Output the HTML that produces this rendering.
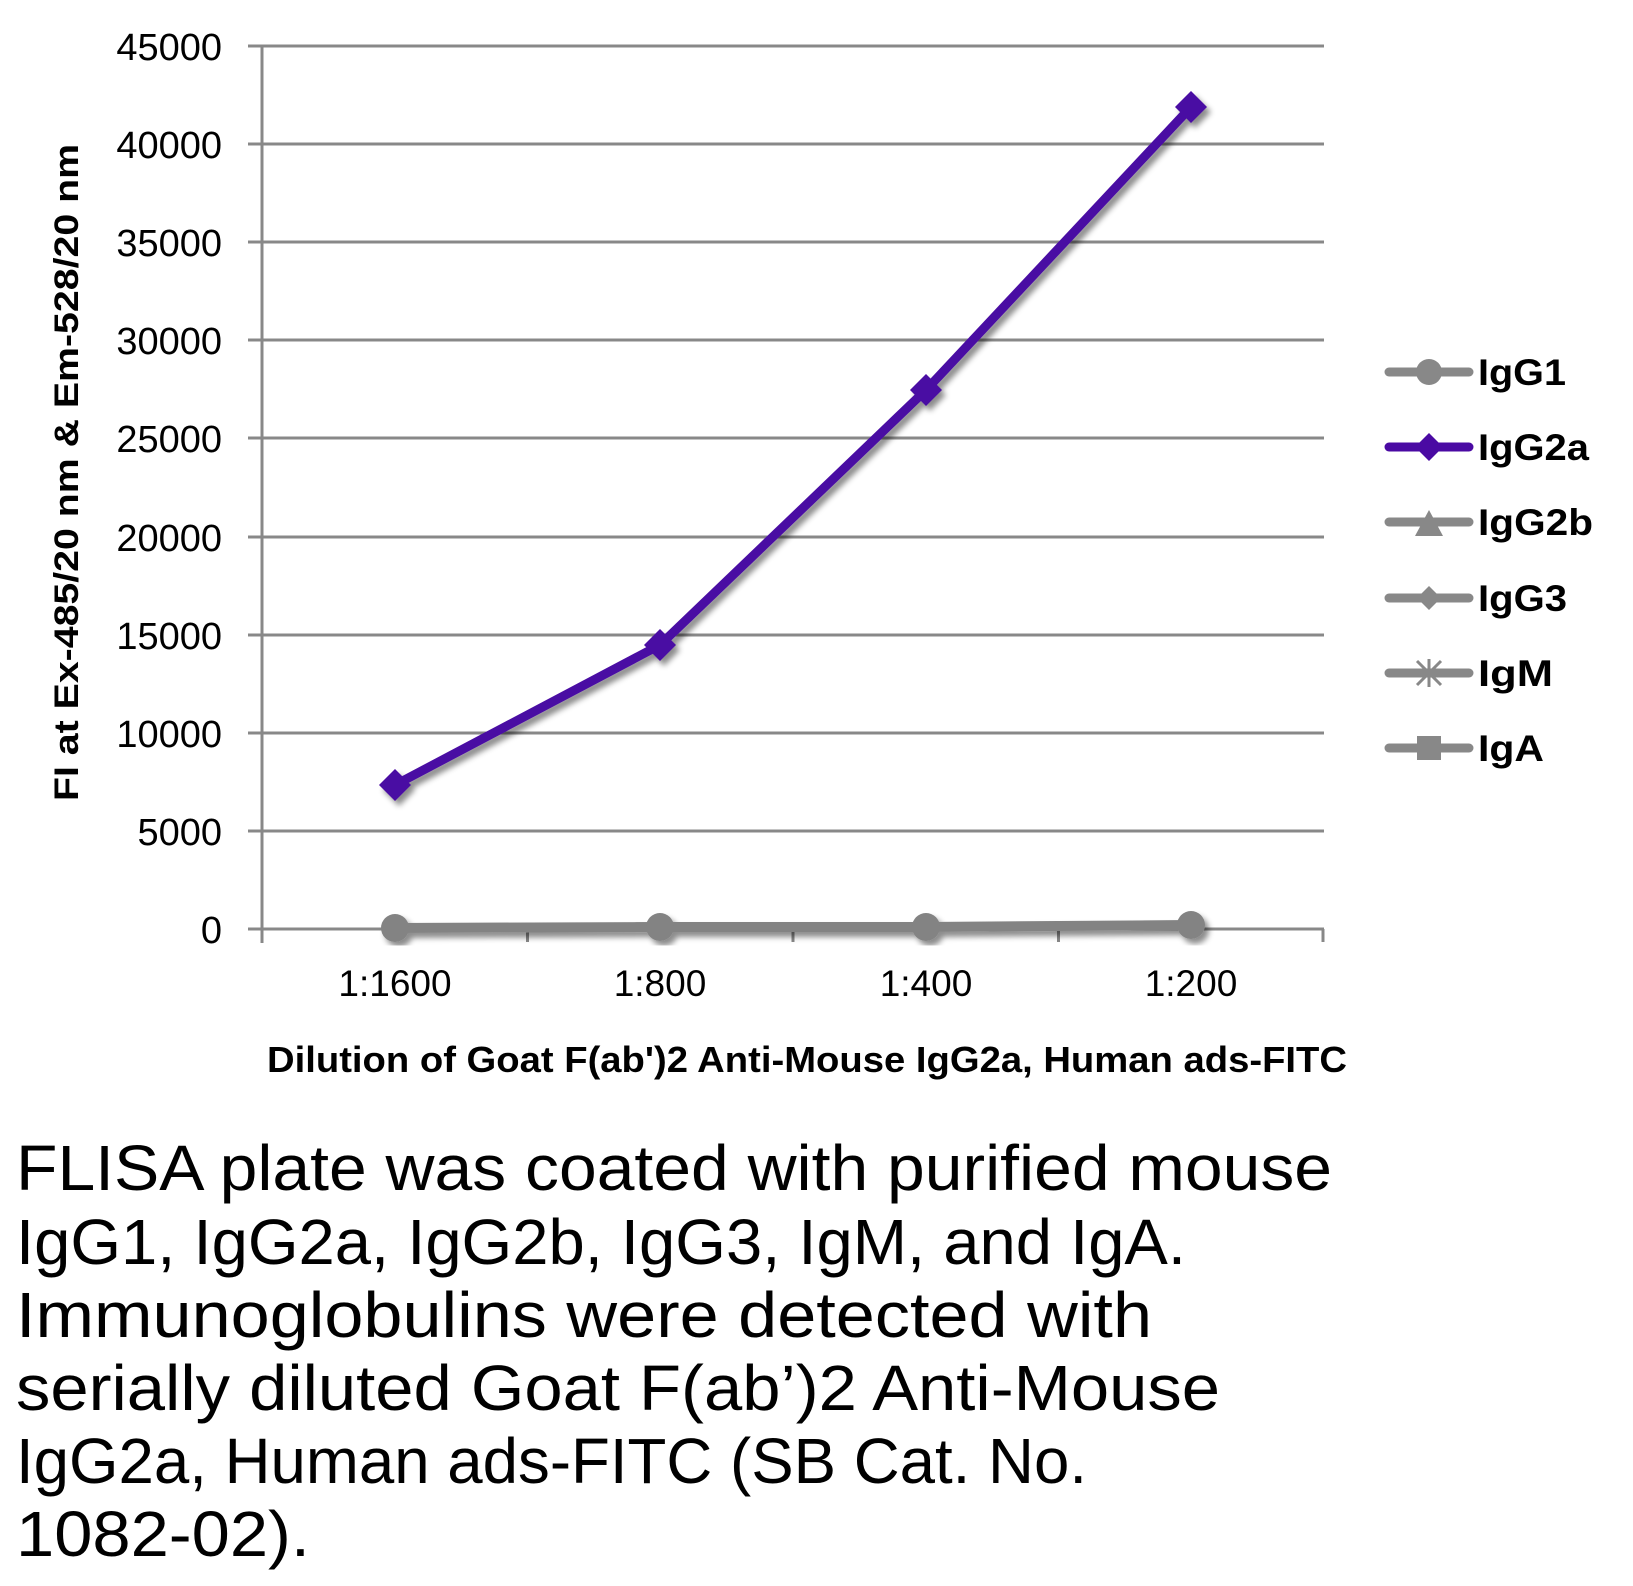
<!DOCTYPE html>
<html><head><meta charset="utf-8"><style>
html,body{margin:0;padding:0;background:#fff}
svg{display:block}
text{font-family:"Liberation Sans",sans-serif}
</style></head><body>
<svg width="1633" height="1586" viewBox="0 0 1633 1586" xmlns="http://www.w3.org/2000/svg">
<defs>
<filter id="sh" x="-10%" y="-10%" width="120%" height="120%">
<feDropShadow dx="4" dy="5" stdDeviation="3" flood-color="#000" flood-opacity="0.45"/>
</filter>
</defs>
<g stroke="#888" stroke-width="3">
<line x1="248" y1="46" x2="1324" y2="46"/>
<line x1="248" y1="144" x2="1324" y2="144"/>
<line x1="248" y1="242" x2="1324" y2="242"/>
<line x1="248" y1="340" x2="1324" y2="340"/>
<line x1="248" y1="438" x2="1324" y2="438"/>
<line x1="248" y1="537" x2="1324" y2="537"/>
<line x1="248" y1="635" x2="1324" y2="635"/>
<line x1="248" y1="733" x2="1324" y2="733"/>
<line x1="248" y1="831" x2="1324" y2="831"/>
<line x1="248" y1="929" x2="1324" y2="929"/>
<line x1="262" y1="46" x2="262" y2="943"/>
<line x1="527.5" y1="929" x2="527.5" y2="942"/>
<line x1="793" y1="929" x2="793" y2="942"/>
<line x1="1058.5" y1="929" x2="1058.5" y2="942"/>
<line x1="1323" y1="929" x2="1323" y2="942"/>
</g>
<g font-size="38" text-anchor="end" fill="#000">
<text x="222" y="60">45000</text>
<text x="222" y="158">40000</text>
<text x="222" y="256">35000</text>
<text x="222" y="354">30000</text>
<text x="222" y="452">25000</text>
<text x="222" y="551">20000</text>
<text x="222" y="649">15000</text>
<text x="222" y="747">10000</text>
<text x="222" y="845">5000</text>
<text x="222" y="943">0</text>
</g>
<g font-size="37" text-anchor="middle">
<text x="395" y="996">1:1600</text>
<text x="660" y="996">1:800</text>
<text x="926" y="996">1:400</text>
<text x="1191" y="996">1:200</text>
</g>
<text x="267" y="1072" font-size="36" font-weight="bold" textLength="1080" lengthAdjust="spacingAndGlyphs">Dilution of Goat F(ab')2 Anti-Mouse IgG2a, Human ads-FITC</text>
<text transform="translate(78,801) rotate(-90)" font-size="34" font-weight="bold" textLength="657" lengthAdjust="spacingAndGlyphs">FI at Ex-485/20 nm &amp; Em-528/20 nm</text>
<g filter="url(#sh)">
<polyline points="395,928 660,927 926,927 1191,925" fill="none" stroke="#838383" stroke-width="10"/>
<circle cx="395" cy="928" r="14" fill="#838383"/><circle cx="660" cy="927" r="14" fill="#838383"/>
<circle cx="926" cy="927" r="14" fill="#838383"/><circle cx="1191" cy="925" r="14" fill="#838383"/>
</g>
<g filter="url(#sh)">
<polyline points="395,785 660,645 926,390 1191,107" fill="none" stroke="#4a0aa3" stroke-width="9"/>
<g fill="#4a0aa3">
<polygon points="395,769 411,785 395,801 379,785"/>
<polygon points="660,629 676,645 660,661 644,645"/>
<polygon points="926,374 942,390 926,406 910,390"/>
<polygon points="1191,91 1207,107 1191,123 1175,107"/>
</g>
</g>
<g stroke-linecap="round" stroke-width="9">
<line x1="1389" y1="372" x2="1469" y2="372" stroke="#888"/>
<circle cx="1429" cy="372" r="13" fill="#888"/>
<line x1="1389" y1="447" x2="1469" y2="447" stroke="#4a0aa3"/>
<polygon points="1429,433 1443,447 1429,461 1415,447" fill="#4a0aa3"/>
<line x1="1389" y1="522" x2="1469" y2="522" stroke="#888"/>
<polygon points="1429,510 1443,536 1415,536" fill="#888"/>
<line x1="1389" y1="598" x2="1469" y2="598" stroke="#888"/>
<polygon points="1429,586 1441,598 1429,610 1417,598" fill="#888"/>
<line x1="1389" y1="673" x2="1469" y2="673" stroke="#888"/>
<g stroke="#888" stroke-width="3" stroke-linecap="butt"><line x1="1417" y1="661" x2="1441" y2="685"/><line x1="1441" y1="661" x2="1417" y2="685"/><line x1="1429" y1="659" x2="1429" y2="687"/></g>
<line x1="1389" y1="748" x2="1469" y2="748" stroke="#888"/>
<rect x="1417" y="736" width="24" height="24" fill="#888"/>
</g>
<g font-size="37" font-weight="bold">
<text x="1478" y="385" textLength="88" lengthAdjust="spacingAndGlyphs">IgG1</text>
<text x="1478" y="460" textLength="111" lengthAdjust="spacingAndGlyphs">IgG2a</text>
<text x="1478" y="535" textLength="115" lengthAdjust="spacingAndGlyphs">IgG2b</text>
<text x="1478" y="611" textLength="89" lengthAdjust="spacingAndGlyphs">IgG3</text>
<text x="1478" y="686" textLength="75" lengthAdjust="spacingAndGlyphs">IgM</text>
<text x="1478" y="761" textLength="66" lengthAdjust="spacingAndGlyphs">IgA</text>
</g>
<g font-size="64" fill="#000">
<text x="16" y="1190" textLength="1316" lengthAdjust="spacingAndGlyphs">FLISA plate was coated with purified mouse</text>
<text x="16" y="1264" textLength="1170" lengthAdjust="spacingAndGlyphs">IgG1, IgG2a, IgG2b, IgG3, IgM, and IgA.</text>
<text x="16" y="1337" textLength="1136" lengthAdjust="spacingAndGlyphs">Immunoglobulins were detected with</text>
<text x="16" y="1410" textLength="1204" lengthAdjust="spacingAndGlyphs">serially diluted Goat F(ab’)2 Anti-Mouse</text>
<text x="16" y="1483" textLength="1071" lengthAdjust="spacingAndGlyphs">IgG2a, Human ads-FITC (SB Cat. No.</text>
<text x="16" y="1556" textLength="294" lengthAdjust="spacingAndGlyphs">1082-02).</text>
</g>
</svg>
</body></html>
